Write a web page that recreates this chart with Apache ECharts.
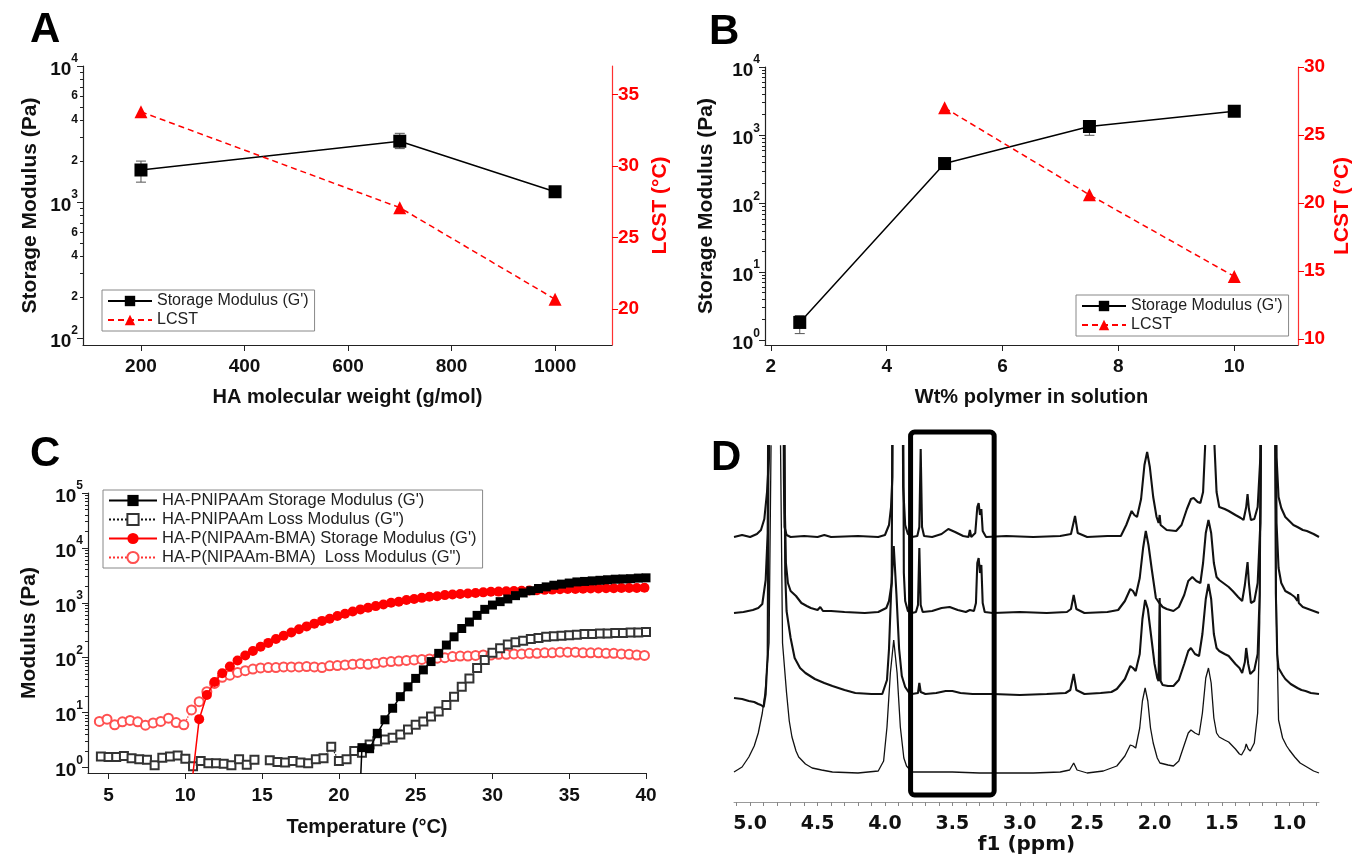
<!DOCTYPE html>
<html><head><meta charset="utf-8">
<script src="https://cdn.jsdelivr.net/npm/echarts@6/dist/echarts.min.js"></script>
<style>html,body{margin:0;padding:0;background:#fff}#main{width:1354px;height:860px}</style>
</head><body><div id="main"></div>
<script>
// ---------- Panel A ----------
const hamwCats = [200, 700, 1000];
const hamwModulus = [1720, 2800, 1190];
const hamwModLow = [1400, 2470, 1130];
const hamwModHigh = [2000, 3200, 1250];
const hamwLcst = [33.8, 27.1, 20.7];
// ---------- Panel B ----------
const wtPct = [2.5, 5, 7.5, 10];
const wtModulus = [1.82, 386, 1345, 2250];
const wtModLow = [1.25, 330, 1000, 1950];
const wtModHigh = [2.3, 440, 1600, 2500];
const wtLcstX = [5, 7.5, 10];
const wtLcst = [27.0, 20.6, 14.6];
// ---------- Panel C ----------
const tempBMA = [4.4,4.9,5.4,5.9,6.4,6.9,7.4,7.9,8.4,8.9,9.4,9.9,10.4,10.9,11.4,11.9,12.4,12.9,13.4,13.9,14.4,14.9,15.4,15.9,16.4,16.9,17.4,17.9,18.4,18.9,19.4,19.9,20.4,20.9,21.4,21.9,22.4,22.9,23.4,23.9,24.4,24.9,25.4,25.9,26.4,26.9,27.4,27.9,28.4,28.9,29.4,29.9,30.4,30.9,31.4,31.9,32.4,32.9,33.4,33.9,34.4,34.9,35.4,35.9,36.4,36.9,37.4,37.9,38.4,38.9,39.4,39.9];
const lossBMA = [6.9,7.6,6.0,6.8,7.2,6.8,5.9,6.5,6.9,7.9,6.6,6.0,11.2,15.8,24,34,44,48,54,58,62,65,66,66,68,68,68,69,68,66,71,72,74,76,78,76,79,83,85,87,89,91,93,95,98,100,105,107,107,110,112,112,115,115,117,117,120,120,123,123,126,126,126,123,123,123,120,120,117,115,112,110];
const storeBMA = [null,null,null,null,null,null,null,null,null,null,null,null,0.45,7.6,21,36,52,69,89,110,132,158,186,219,251,288,331,372,417,468,513,575,631,692,759,813,871,933,1000,1047,1122,1175,1230,1288,1318,1380,1413,1445,1479,1514,1549,1585,1600,1622,1640,1660,1680,1698,1720,1738,1760,1778,1778,1800,1820,1820,1840,1840,1862,1862,1862,1880];
const tempPN = [4.5,5,5.5,6,6.5,7,7.5,8,8.5,9,9.5,10,10.5,11,11.5,12,12.5,13,13.5,14,14.5,15,15.5,16,16.5,17,17.5,18,18.5,19,19.5,20,20.5,21,21.5,22,22.5,23,23.5,24,24.5,25,25.5,26,26.5,27,27.5,28,28.5,29,29.5,30,30.5,31,31.5,32,32.5,33,33.5,34,34.5,35,35.5,36,36.5,37,37.5,38,38.5,39,39.5,40];
const lossPN = [1.58,1.55,1.55,1.62,1.48,1.41,1.38,1.10,1.51,1.58,1.66,1.45,1.05,1.32,1.20,1.20,1.17,1.10,1.41,1.12,1.38,null,1.35,1.26,1.23,1.32,1.23,1.20,1.41,1.48,2.40,1.32,1.41,2.00,1.86,2.63,3.02,3.24,3.47,3.98,4.90,6.03,6.92,8.51,10.5,13.8,19.5,29.5,41.7,64.6,91.2,123,148,174,191,204,219,229,240,245,251,257,263,269,269,275,275,282,282,288,288,295];
const tempStorePN = [21.4,21.5,22,22.5,23,23.5,24,24.5,25,25.5,26,26.5,27,27.5,28,28.5,29,29.5,30,30.5,31,31.5,32,32.5,33,33.5,34,34.5,35,35.5,36,36.5,37,37.5,38,38.5,39,39.5,40];
const storePN = [0.5,2.3,2.2,4.2,7.4,12,19.5,29.5,42,60,85,120,170,240,340,447,590,760,910,1050,1175,1350,1510,1660,1820,1950,2090,2190,2290,2400,2450,2510,2570,2630,2690,2720,2750,2820,2850];
const legendC = ["HA-PNIPAAm Storage Modulus (G')", 'HA-PNIPAAm Loss Modulus (G")', "HA-P(NIPAAm-BMA) Storage Modulus (G')", 'HA-P(NIPAAm-BMA)  Loss Modulus (G")'];
// ---------- Panel D (1H NMR, ppm vs intensity above each baseline) ----------
const specOffsets = [265, 189, 108, 29];
const spec1 = [[5.12,0],[5.06,2],[5.0,0],[4.95,3],[4.92,7],[4.895,18],[4.875,45],[4.86,80],[4.85,400],[4.76,400],[4.75,60],[4.745,10],[4.73,2],[4.70,0],[4.6,1],[4.5,0],[4.45,2],[4.4,0],[4.2,1],[4.05,0],[4.0,2],[3.97,12],[3.955,30],[3.945,60],[3.935,400],[3.88,400],[3.865,50],[3.85,12],[3.83,3],[3.80,0],[3.76,1],[3.745,10],[3.735,88],[3.725,10],[3.71,1],[3.65,0],[3.58,3],[3.53,8],[3.48,5],[3.42,1],[3.38,0],[3.37,7],[3.36,0],[3.33,4],[3.315,30],[3.305,34],[3.295,22],[3.285,28],[3.275,6],[3.25,0],[3.1,1],[2.9,0],[2.7,1],[2.62,3],[2.59,21],[2.57,4],[2.50,0],[2.35,1],[2.25,1],[2.21,12],[2.17,26],[2.15,22],[2.13,20],[2.10,38],[2.075,72],[2.055,85],[2.035,70],[2.01,40],[1.985,20],[1.97,14],[1.962,22],[1.955,12],[1.91,7],[1.84,6],[1.80,12],[1.76,28],[1.73,38],[1.71,39],[1.68,35],[1.66,34],[1.64,45],[1.625,90],[1.61,400],[1.57,400],[1.555,90],[1.54,45],[1.52,30],[1.48,28],[1.45,26],[1.40,22],[1.36,19],[1.34,17],[1.32,30],[1.31,43],[1.30,28],[1.285,17],[1.26,18],[1.235,30],[1.215,80],[1.20,400],[1.11,400],[1.095,80],[1.08,40],[1.06,29],[1.03,20],[1.00,16],[0.97,12],[0.94,10],[0.90,7],[0.87,6],[0.82,3],[0.78,0]];
const spec2 = [[5.12,0],[5.05,1],[4.98,3],[4.94,5],[4.91,9],[4.885,33],[4.87,80],[4.86,400],[4.76,400],[4.745,120],[4.735,50],[4.72,30],[4.70,22],[4.66,17],[4.62,10],[4.58,7],[4.55,5],[4.50,3],[4.48,6],[4.46,2],[4.40,2],[4.30,1],[4.15,0],[4.05,1],[3.99,5],[3.97,12],[3.95,30],[3.94,400],[3.87,400],[3.86,40],[3.85,12],[3.83,2],[3.80,0],[3.77,1],[3.755,8],[3.745,65],[3.735,8],[3.72,1],[3.65,2],[3.58,5],[3.52,6],[3.46,3],[3.40,1],[3.37,3],[3.34,2],[3.325,10],[3.315,50],[3.305,55],[3.295,40],[3.285,48],[3.275,10],[3.26,1],[3.2,0],[3.0,1],[2.8,0],[2.65,1],[2.62,4],[2.60,18],[2.58,4],[2.52,0],[2.35,1],[2.27,3],[2.22,12],[2.18,24],[2.16,22],[2.14,17],[2.11,35],[2.085,65],[2.065,82],[2.045,68],[2.02,43],[1.99,15],[1.97,11],[1.94,6],[1.91,4],[1.86,2],[1.82,6],[1.78,18],[1.75,32],[1.72,36],[1.69,32],[1.66,30],[1.64,50],[1.62,80],[1.60,93],[1.58,80],[1.56,50],[1.54,36],[1.52,33],[1.48,29],[1.45,26],[1.42,22],[1.38,16],[1.35,12],[1.33,28],[1.31,51],[1.30,30],[1.285,10],[1.26,12],[1.235,30],[1.215,90],[1.20,400],[1.11,400],[1.095,90],[1.08,45],[1.06,30],[1.03,22],[0.99,19],[0.96,16],[0.94,12],[0.935,19],[0.93,10],[0.90,6],[0.86,4],[0.82,2],[0.78,0]];
const spec3 = [[5.12,-4],[5.06,-5],[5.01,-7],[4.97,-8],[4.94,-10],[4.92,-11],[4.90,-13],[4.885,0],[4.87,40],[4.86,400],[4.75,400],[4.74,120],[4.73,83],[4.70,56],[4.67,36],[4.63,26],[4.59,21],[4.52,15],[4.45,11],[4.39,8],[4.30,4],[4.22,1],[4.10,0],[4.02,0],[3.985,14],[3.97,45],[3.955,100],[3.935,148],[3.915,100],[3.895,45],[3.875,18],[3.85,7],[3.825,2],[3.80,0],[3.755,1],[3.745,11],[3.735,2],[3.70,0],[3.62,1],[3.55,3],[3.50,3],[3.44,1],[3.35,0],[3.2,0],[3.0,-1],[2.8,0],[2.66,1],[2.625,4],[2.60,20],[2.58,4],[2.52,0],[2.40,1],[2.32,2],[2.28,5],[2.22,15],[2.18,28],[2.16,26],[2.14,23],[2.11,40],[2.09,75],[2.07,94],[2.05,85],[2.03,63],[2.00,30],[1.98,16],[1.97,13],[1.962,96],[1.955,13],[1.94,9],[1.90,8],[1.86,8],[1.82,14],[1.78,30],[1.75,43],[1.73,46],[1.70,40],[1.67,38],[1.645,60],[1.62,95],[1.60,110],[1.58,95],[1.56,60],[1.54,46],[1.52,43],[1.48,40],[1.45,38],[1.40,30],[1.37,26],[1.35,21],[1.33,32],[1.32,46],[1.305,30],[1.29,20],[1.26,24],[1.235,40],[1.22,100],[1.205,400],[1.11,400],[1.10,100],[1.09,40],[1.08,26],[1.05,19],[1.03,15],[0.99,10],[0.94,6],[0.91,4],[0.88,3],[0.84,1],[0.78,0]];
const spec4 = [[5.12,1],[5.06,6],[5.01,16],[4.97,27],[4.94,40],[4.91,60],[4.89,80],[4.86,130],[4.845,330],[4.81,700],[4.775,330],[4.76,130],[4.73,80],[4.71,52],[4.69,36],[4.66,22],[4.64,16],[4.59,9],[4.54,5],[4.47,3],[4.39,1],[4.2,0],[4.05,2],[4.01,12],[3.985,46],[3.96,100],[3.935,133],[3.91,100],[3.886,46],[3.86,15],[3.84,7],[3.80,1],[3.75,1],[3.74,3],[3.73,1],[3.6,1],[3.5,1],[3.3,0],[2.9,0],[2.7,1],[2.63,3],[2.60,10],[2.575,3],[2.5,0],[2.38,2],[2.28,7],[2.22,17],[2.18,28],[2.16,27],[2.14,25],[2.11,45],[2.09,72],[2.07,85],[2.05,72],[2.03,45],[2.01,30],[1.98,15],[1.96,10],[1.90,8],[1.86,7],[1.82,12],[1.78,28],[1.75,40],[1.73,43],[1.70,40],[1.67,38],[1.645,60],[1.62,95],[1.60,105],[1.58,90],[1.56,55],[1.54,40],[1.52,36],[1.48,33],[1.45,31],[1.40,24],[1.37,19],[1.355,18],[1.33,24],[1.32,29],[1.305,24],[1.29,22],[1.26,30],[1.235,60],[1.22,150],[1.205,400],[1.11,400],[1.095,150],[1.08,53],[1.05,35],[1.02,27],[1.00,23],[0.96,16],[0.92,10],[0.87,6],[0.82,2],[0.78,0]];
const boxRegion = [3.81, 3.19, 7, 370]; // ppm from, ppm to, intensity bottom, intensity top

// ---------- helpers ----------
const FONT = 'Liberation Sans, Arial, Helvetica, sans-serif';
const L = v => (v == null ? null : Math.log10(v));
function minorLogs(d0, d1) { const o = []; for (let d = d0; d < d1; d++) for (let k = 2; k <= 9; k++) o.push(Math.log10(k * Math.pow(10, d))); return o; }
function range(a, b) { const o = []; for (let i = a; i <= b; i++) o.push(i); return o; }
function logLabel(v) {
  const r = Math.round(v);
  if (Math.abs(v - r) < 1e-6) return '{b|10}{s|' + r + '}';
  return '{m|' + Math.round(Math.pow(10, v - Math.floor(v))) + '}';
}
const RICH = {
  b: {fontSize: 19, fontWeight: 'bold', fontFamily: FONT, color: '#111', lineHeight: 26, verticalAlign: 'bottom'},
  s: {fontSize: 12, fontWeight: 'bold', fontFamily: FONT, color: '#111', lineHeight: 14, verticalAlign: 'top'},
  m: {fontSize: 12, fontWeight: 'bold', fontFamily: FONT, color: '#111'}
};
const AX = '#222';
function xAxis(gi, min, max, vals, name, gap, margin) {
  return {type: 'value', gridIndex: gi, min, max, name, nameLocation: 'middle', nameGap: gap,
    nameTextStyle: {fontSize: 20, fontWeight: 'bold', fontFamily: FONT, color: '#111'},
    axisLine: {show: true, onZero: false, lineStyle: {color: AX, width: 1.2}},
    axisTick: {show: true, length: 6, customValues: vals, lineStyle: {color: AX}},
    axisLabel: {customValues: vals, formatter: v => String(v), fontSize: 19, fontWeight: 'bold', fontFamily: FONT, color: '#111', margin: margin},
    splitLine: {show: false}};
}
function yMajor(gi, min, max, majors, labels, name, gap) {
  return {type: 'value', gridIndex: gi, position: 'left', min, max, name, nameLocation: 'middle', nameGap: gap, nameRotate: 90,
    nameTextStyle: {fontSize: 21, fontWeight: 'bold', fontFamily: FONT, color: '#111'},
    axisLine: {show: true, onZero: false, lineStyle: {color: AX, width: 1.2}},
    axisTick: {show: true, length: 6, customValues: majors, lineStyle: {color: AX}},
    axisLabel: {customValues: labels, formatter: logLabel, rich: RICH, margin: 5},
    splitLine: {show: false}};
}
function yMinor(gi, min, max, ticks) {
  return {type: 'value', gridIndex: gi, position: 'left', min, max,
    axisLine: {show: false}, axisTick: {show: true, length: 3, customValues: ticks, lineStyle: {color: AX}},
    axisLabel: {show: false}, splitLine: {show: false}};
}
function yRight(gi, min, max, vals, gap) {
  return {type: 'value', gridIndex: gi, position: 'right', min, max, name: 'LCST (°C)', nameLocation: 'middle', nameGap: gap, nameRotate: 90,
    nameTextStyle: {fontSize: 21, fontWeight: 'bold', fontFamily: FONT, color: '#ff0000'},
    axisLine: {show: true, lineStyle: {color: '#ff3030', width: 1.2}},
    axisTick: {show: true, length: 6, customValues: vals, lineStyle: {color: '#ff0000'}},
    axisLabel: {customValues: vals, fontSize: 19, fontWeight: 'bold', fontFamily: FONT, color: '#ff0000', margin: 6},
    splitLine: {show: false}};
}
function errRender(params, api) {
  const x = api.value(0);
  const lo = api.coord([x, api.value(1)]);
  const hi = api.coord([x, api.value(2)]);
  const w = 5, st = {stroke: '#555', lineWidth: 1};
  return {type: 'group', children: [
    {type: 'line', shape: {x1: lo[0], y1: lo[1], x2: hi[0], y2: hi[1]}, style: st},
    {type: 'line', shape: {x1: lo[0] - w, y1: lo[1], x2: lo[0] + w, y2: lo[1]}, style: st},
    {type: 'line', shape: {x1: hi[0] - w, y1: hi[1], x2: hi[0] + w, y2: hi[1]}, style: st}]};
}
const hiddenFirst = (arr) => arr.map((p, i) => i === 0 ? {value: p, symbol: 'none'} : p);

const SM = "Storage Modulus (G')";
const legendBase = {orient: 'vertical', selectedMode: false, backgroundColor: '#fff', borderColor: '#888', borderWidth: 1,
  itemWidth: 44, itemHeight: 13, itemGap: 3, textStyle: {fontFamily: FONT, fontSize: 16, color: '#222'}};

const option = {
  animation: false,
  backgroundColor: '#fff',
  textStyle: {fontFamily: FONT},
  title: [
    {text: 'A', left: 25, top: 4, textStyle: {fontSize: 42, fontWeight: 'bold', fontFamily: FONT, color: '#000'}},
    {text: 'B', left: 704, top: 6, textStyle: {fontSize: 42, fontWeight: 'bold', fontFamily: FONT, color: '#000'}},
    {text: 'C', left: 25, top: 428, textStyle: {fontSize: 42, fontWeight: 'bold', fontFamily: FONT, color: '#000'}},
    {text: 'D', left: 706, top: 432, textStyle: {fontSize: 42, fontWeight: 'bold', fontFamily: FONT, color: '#000'}}
  ],
  grid: [
    {left: 83, top: 66, width: 529, height: 279},
    {left: 765, top: 67, width: 533, height: 278},
    {left: 88, top: 493, width: 558, height: 280},
    {left: 734, top: 446, width: 585, height: 356}
  ],
  legend: [
    Object.assign({}, legendBase, {left: 102, top: 290, padding: [3, 6, 3, 5], data: [SM, 'LCST']}),
    Object.assign({}, legendBase, {left: 1076, top: 295, padding: [3, 6, 3, 5], data: [SM, 'LCST']}),
    Object.assign({}, legendBase, {left: 103, top: 490, padding: [2, 6, 2, 5], itemWidth: 48, itemHeight: 14, itemGap: 2,
      textStyle: {fontFamily: FONT, fontSize: 16.5, color: '#222'}, data: legendC})
  ],
  xAxis: [
    xAxis(0, 88, 1110, [200, 400, 600, 800, 1000], 'HA molecular weight (g/mol)', 42, 12),
    xAxis(1, 1.9, 11.1, [2, 4, 6, 8, 10], 'Wt% polymer in solution', 42, 12),
    xAxis(2, 3.66, 40, [5, 10, 15, 20, 25, 30, 35, 40], 'Temperature (°C)', 44, 13),
    {type: 'value', gridIndex: 3, min: 0.78, max: 5.12, inverse: true, name: 'f1 (ppm)', nameLocation: 'middle', nameGap: 30,
      nameTextStyle: {fontSize: 20, fontWeight: 'bold', fontFamily: 'DejaVu Sans, Verdana, sans-serif', color: '#111'},
      axisLine: {show: true, onZero: false, lineStyle: {color: '#999', width: 1}},
      axisTick: {show: true, length: 4, customValues: range(8, 51).map(k => k / 10), lineStyle: {color: '#888'}},
      axisLabel: {customValues: range(2, 10).map(k => k / 2), formatter: v => v.toFixed(1), fontSize: 19, fontWeight: 'bold',
        fontFamily: 'DejaVu Sans, Verdana, sans-serif', color: '#111', margin: 13},
      splitLine: {show: false}}
  ],
  yAxis: [
    yMajor(0, 1.949, 4, [2, 3, 4], [2, 3, 4].concat([200, 400, 600, 2000, 4000, 6000].map(Math.log10)), 'Storage Modulus (Pa)', 42),
    yMinor(0, 1.949, 4, minorLogs(2, 4)),
    yRight(0, 17.5, 37, [20, 25, 30, 35], 38),
    yMajor(1, -0.07, 4, [0, 1, 2, 3, 4], [0, 1, 2, 3, 4], 'Storage Modulus (Pa)', 48),
    yMinor(1, -0.07, 4, minorLogs(0, 4)),
    yRight(1, 9.56, 30, [10, 15, 20, 25, 30], 34),
    yMajor(2, -0.1, 5, [0, 1, 2, 3, 4, 5], [0, 1, 2, 3, 4, 5], 'Modulus (Pa)', 48),
    yMinor(2, -0.1, 5, minorLogs(0, 5)),
    {type: 'value', gridIndex: 3, min: 0, max: 356, show: false}
  ],
  series: [
    // Panel A
    {type: 'custom', name: 'errA', xAxisIndex: 0, yAxisIndex: 0, renderItem: errRender, clip: false, z: 1,
      data: hamwCats.map((x, i) => [x, L(hamwModLow[i]), L(hamwModHigh[i])])},
    {type: 'line', name: SM, xAxisIndex: 0, yAxisIndex: 0, symbol: 'rect', symbolSize: 13, z: 3,
      itemStyle: {color: '#000'}, lineStyle: {color: '#000', width: 1.5},
      data: hamwCats.map((x, i) => [x, L(hamwModulus[i])])},
    {type: 'line', name: 'LCST', xAxisIndex: 0, yAxisIndex: 2, symbol: 'triangle', symbolSize: 13, z: 3,
      itemStyle: {color: '#ff0000'}, lineStyle: {color: '#ff0000', width: 1.5, type: [6, 4]},
      data: hamwCats.map((x, i) => [x, hamwLcst[i]])},
    // Panel B
    {type: 'custom', name: 'errB', xAxisIndex: 1, yAxisIndex: 3, renderItem: errRender, clip: false, z: 1,
      data: wtPct.map((x, i) => [x, L(wtModLow[i]), L(wtModHigh[i])])},
    {type: 'line', name: SM, xAxisIndex: 1, yAxisIndex: 3, symbol: 'rect', symbolSize: 13, z: 3,
      itemStyle: {color: '#000'}, lineStyle: {color: '#000', width: 1.5},
      data: wtPct.map((x, i) => [x, L(wtModulus[i])])},
    {type: 'line', name: 'LCST', xAxisIndex: 1, yAxisIndex: 5, symbol: 'triangle', symbolSize: 13, z: 3,
      itemStyle: {color: '#ff0000'}, lineStyle: {color: '#ff0000', width: 1.5, type: [6, 4]},
      data: wtLcstX.map((x, i) => [x, wtLcst[i]])},
    // Panel C
    {type: 'line', name: legendC[3], xAxisIndex: 2, yAxisIndex: 6, symbol: 'emptyCircle', symbolSize: 9, z: 2,
      itemStyle: {color: '#ff5050', borderWidth: 1}, lineStyle: {color: '#ff3030', width: 1.3, type: 'dotted'},
      data: tempBMA.map((t, i) => [t, L(lossBMA[i])])},
    {type: 'line', name: legendC[1], xAxisIndex: 2, yAxisIndex: 6, symbol: 'emptyRect', symbolSize: 8, z: 3, connectNulls: false,
      itemStyle: {color: '#333', borderWidth: 1}, lineStyle: {color: '#111', width: 1.3, type: 'dotted'},
      data: tempPN.map((t, i) => [t, L(lossPN[i])])},
    {type: 'line', name: legendC[2], xAxisIndex: 2, yAxisIndex: 6, symbol: 'circle', symbolSize: 10, z: 4,
      itemStyle: {color: '#ff0000'}, lineStyle: {color: '#ff0000', width: 1.5},
      data: hiddenFirst(tempBMA.map((t, i) => [t, L(storeBMA[i])]).filter(p => p[1] != null))},
    {type: 'line', name: legendC[0], xAxisIndex: 2, yAxisIndex: 6, symbol: 'rect', symbolSize: 9, z: 5,
      itemStyle: {color: '#000'}, lineStyle: {color: '#000', width: 1.5},
      data: hiddenFirst(tempStorePN.map((t, i) => [t, L(storePN[i])]))},
    // Panel D
    ...[spec1, spec2, spec3, spec4].map((sp, k) => ({
      type: 'line', name: 'spectrum' + (k + 1), xAxisIndex: 3, yAxisIndex: 8, symbol: 'none', z: 2,
      lineStyle: {color: '#111', width: k === 3 ? 1.3 : 2.1},
      data: sp.map(([p, v]) => [p, v + specOffsets[k]])
    })),
    {type: 'custom', name: 'box', xAxisIndex: 3, yAxisIndex: 8, clip: false, z: 6,
      renderItem: (params, api) => {
        const a = api.coord([api.value(0), api.value(3)]);
        const b = api.coord([api.value(1), api.value(2)]);
        return {type: 'rect', shape: {x: Math.min(a[0], b[0]), y: Math.min(a[1], b[1]), width: Math.abs(b[0] - a[0]), height: Math.abs(b[1] - a[1]), r: 4},
          style: {fill: 'none', stroke: '#000', lineWidth: 5}};
      },
      data: [boxRegion]}
  ]
};
const chart = echarts.init(document.getElementById('main'));
chart.setOption(option);
</script>
</body></html>
